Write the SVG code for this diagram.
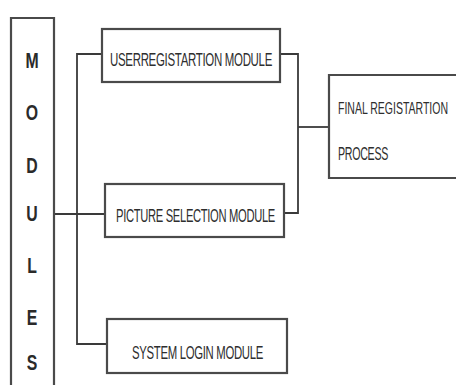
<svg xmlns="http://www.w3.org/2000/svg" width="456" height="385" viewBox="0 0 456 385">
<style>
.box{fill:#fff;stroke:#4a4a4a;stroke-width:2.2}
.ln{fill:none;stroke:#3a3a3a;stroke-width:1.8}
.t{font-family:"Liberation Sans",Arial,sans-serif;font-size:18px;fill:#2e2e2e;letter-spacing:-0.5px}
.f{font-family:"Liberation Sans",Arial,sans-serif;font-size:10.5px;fill:#2e2e2e}
.m{font-family:"Liberation Sans",Arial,sans-serif;font-size:22px;font-weight:bold;fill:#2a2a2a;text-anchor:middle}
</style>
<rect width="456" height="385" fill="#fff"/>
<g id="connectors">
<polyline class="ln" points="102,54 77,54 77,344 107,344"/>
<line class="ln" x1="54" y1="214" x2="105" y2="214"/>
<polyline class="ln" points="280,54 298,54 298,213 284,213"/>
<line class="ln" x1="298" y1="127" x2="329" y2="127"/>
</g>
<g id="modules">
<path class="box" d="M11,385 V18 H54 V385"/>
<text class="m" transform="translate(32,68) scale(0.72,1)">M</text>
<text class="m" transform="translate(32,120) scale(0.72,1)">O</text>
<text class="m" transform="translate(32,173) scale(0.72,1)">D</text>
<text class="m" transform="translate(32,221) scale(0.72,1)">U</text>
<text class="m" transform="translate(32,273) scale(0.72,1)">L</text>
<text class="m" transform="translate(32,325) scale(0.72,1)">E</text>
<text class="m" transform="translate(32,370) scale(0.72,1)">S</text>
</g>
<g id="user-registration">
<rect class="box" x="102" y="29" width="178" height="53"/>
<text class="t" x="110" y="66" textLength="162" lengthAdjust="spacingAndGlyphs">USERREGISTARTION MODULE</text>
</g>
<g id="picture-selection">
<rect class="box" x="105" y="184" width="179" height="53"/>
<text class="t" x="116" y="222" textLength="159" lengthAdjust="spacingAndGlyphs">PICTURE SELECTION MODULE</text>
</g>
<g id="system-login">
<rect class="box" x="107" y="319" width="180" height="54"/>
<text class="t" x="132" y="359" textLength="131" lengthAdjust="spacingAndGlyphs">SYSTEM LOGIN MODULE</text>
</g>
<g id="final-registration">
<path class="box" d="M456,75 H329 V178 H456"/>
<text class="f" transform="translate(338,114) scale(1,1.65)">FINAL REGISTARTION</text>
<text class="t" x="338" y="160" textLength="50" lengthAdjust="spacingAndGlyphs">PROCESS</text>
</g>
</svg>
